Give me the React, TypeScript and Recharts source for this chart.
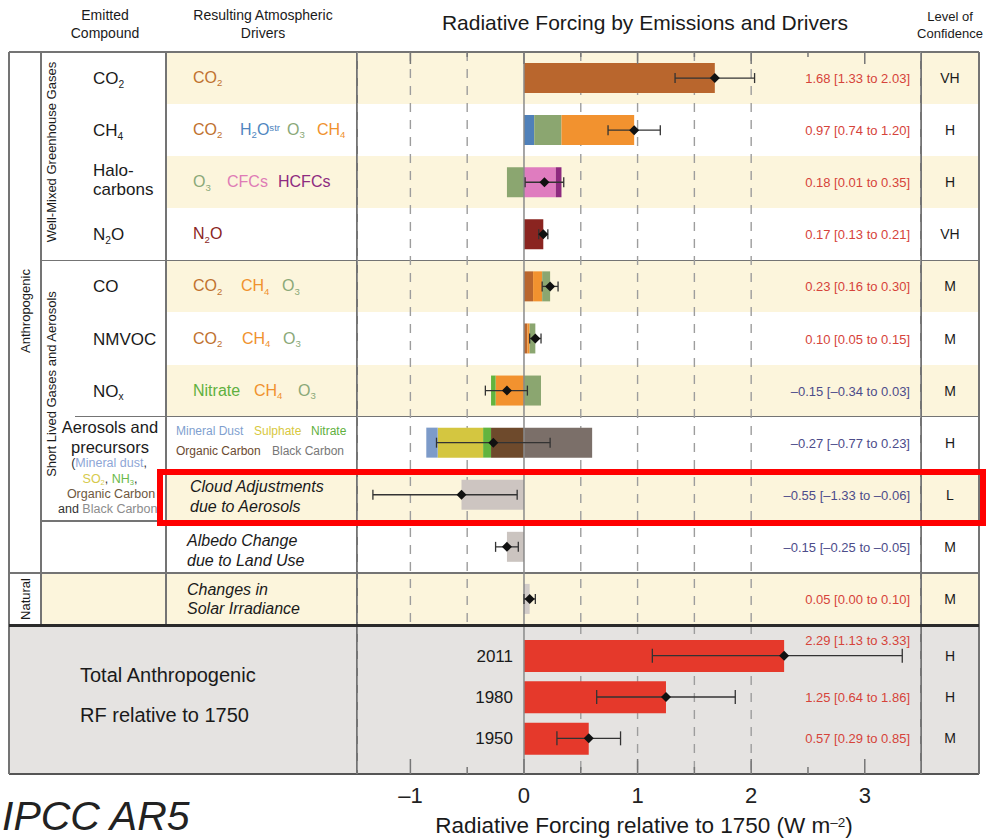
import React from 'react';
import { ComposedChart, Bar, Line, XAxis, YAxis, CartesianGrid, ReferenceLine, ErrorBar } from 'recharts';

// emitted compounds, rows of the upper panel
const rowNames = ['CO2', 'CH4', 'Halocarbons', 'N2O', 'CO', 'NMVOC', 'NOx', 'Aerosols', 'Cloud', 'Albedo', 'Solar'];

// contribution of each resulting driver (W m-2), one value per row
const co2Part = [1.68, 0, 0, 0, 0.08, 0.03, 0, 0, 0, 0, 0];
const h2oPart = [0, 0.09, 0, 0, 0, 0, 0, 0, 0, 0, 0];
const ch4IndPart = [0, 0, 0, 0, 0.08, 0.02, -0.25, 0, 0, 0, 0];
const o3Part = [0, 0.24, -0.15, 0, 0.07, 0.05, 0.15, 0, 0, 0, 0];
const ch4Part = [0, 0.64, 0, 0, 0, 0, 0, 0, 0, 0, 0];
const cfcPart = [0, 0, 0.28, 0, 0, 0, 0, 0, 0, 0, 0];
const hcfcPart = [0, 0, 0.05, 0, 0, 0, 0, 0, 0, 0, 0];
const n2oPart = [0, 0, 0, 0.17, 0, 0, 0, 0, 0, 0, 0];
const ocPart = [0, 0, 0, 0, 0, 0, 0, -0.29, 0, 0, 0];
const nitratePart = [0, 0, 0, 0, 0, 0, -0.04, -0.07, 0, 0, 0];
const sulphatePart = [0, 0, 0, 0, 0, 0, 0, -0.4, 0, 0, 0];
const dustPart = [0, 0, 0, 0, 0, 0, 0, -0.1, 0, 0, 0];
const bcPart = [0, 0, 0, 0, 0, 0, 0, 0.6, 0, 0, 0];
const cloudPart = [0, 0, 0, 0, 0, 0, 0, 0, -0.55, 0, 0];
const albedoPart = [0, 0, 0, 0, 0, 0, 0, 0, 0, -0.15, 0];
const solarPart = [0, 0, 0, 0, 0, 0, 0, 0, 0, 0, 0.05];

// best estimate and range
const bestRF = [1.68, 0.97, 0.18, 0.17, 0.23, 0.1, -0.15, -0.27, -0.55, -0.15, 0.05];
const lowRF = [1.33, 0.74, 0.01, 0.13, 0.16, 0.05, -0.34, -0.77, -1.33, -0.25, 0.0];
const highRF = [2.03, 1.2, 0.35, 0.21, 0.3, 0.15, 0.03, 0.23, -0.06, -0.05, 0.1];
const confidence = ['VH', 'H', 'H', 'VH', 'M', 'M', 'M', 'H', 'L', 'M', 'M'];

// total anthropogenic
const totalYears = ['2011', '1980', '1950'];
const totalBest = [2.29, 1.25, 0.57];
const totalLow = [1.13, 0.64, 0.29];
const totalHigh = [3.33, 1.86, 0.85];
const totalConfidence = ['H', 'H', 'M'];

const axisTicks = [-1, -0.5, 0, 0.5, 1, 1.5, 2, 2.5, 3];
const gridTicksTop = [-1, -0.5, 0.5, 1, 1.5, 2];
const gridTicksBottom = [0.5, 1, 1.5, 2];

// stacking order matters: inner segments first
const stackOrder = ['co2', 'h2o', 'ch4Ind', 'o3', 'ch4', 'cfc', 'hcfc', 'n2o', 'oc', 'nitrate', 'sulphate', 'dust', 'bc', 'cloud', 'albedo', 'solar'];
const partsByDriver: Record<string, number[]> = {
  co2: co2Part, h2o: h2oPart, ch4Ind: ch4IndPart, o3: o3Part, ch4: ch4Part, cfc: cfcPart, hcfc: hcfcPart,
  n2o: n2oPart, oc: ocPart, nitrate: nitratePart, sulphate: sulphatePart, dust: dustPart, bc: bcPart,
  cloud: cloudPart, albedo: albedoPart, solar: solarPart,
};
const driverColors: Record<string, string> = {
  co2: '#b9662d', h2o: '#4f80b9', ch4Ind: '#f2922f', o3: '#8ba670', ch4: '#f2922f', cfc: '#df7cbf',
  hcfc: '#8e2a7f', n2o: '#8a2420', oc: '#6e4a2c', nitrate: '#62b43f', sulphate: '#d4c640', dust: '#7d9bc9',
  bc: '#7b6f69', cloud: '#cdc5c1', albedo: '#cbc4c0', solar: '#d2ccc9',
};

const FONT = '"Liberation Sans", Arial, Helvetica, sans-serif';
const TOP = 52;
const PANEL_BOTTOM = 625;
const AXIS_Y = 774;
const ROW_H = (PANEL_BOTTOM - TOP) / rowNames.length;
const PLOT_LEFT = 357;
const PLOT_RIGHT = 921;
const PLOT_W = PLOT_RIGHT - PLOT_LEFT;
const X_DOMAIN: [number, number] = [-1.47, 3.495];
const BOT_PAD = { top: 10, bottom: 15 };
const BOT_BAND = (AXIS_Y - PANEL_BOTTOM - BOT_PAD.top - BOT_PAD.bottom) / totalYears.length;
const YELLOW = '#fcf5dc';
const LINE = '#747474';

const rowY = (i: number) => TOP + (i + 0.5) * ROW_H;
const botY = (i: number) => PANEL_BOTTOM + BOT_PAD.top + (i + 0.5) * BOT_BAND;

const fmt = (v: number) => (v < 0 ? '–' : '') + Math.abs(v).toFixed(2);
const rangeLabel = (b: number, l: number, h: number) => `${fmt(b)} [${fmt(l)} to ${fmt(h)}]`;

const Sub = ({ children }: any) => (
  <span style={{ fontSize: '0.6em', position: 'relative', top: '0.35em' }}>{children}</span>
);
const Sup = ({ children }: any) => (
  <span style={{ fontSize: '0.6em', position: 'relative', top: '-0.45em' }}>{children}</span>
);

function T({ x, y, align = 'left', size = 16, color = '#1a1a1a', italic = false, children }: any) {
  const tx = align === 'center' ? '-50%' : align === 'right' ? '-100%' : '0';
  return (
    <div
      style={{
        position: 'absolute', left: x, top: y, transform: `translate(${tx}, -50%)`,
        fontSize: size, color, fontStyle: italic ? 'italic' : 'normal', whiteSpace: 'nowrap', lineHeight: 1,
      }}
    >
      {children}
    </div>
  );
}

function VT({ x, y, size = 13, children }: any) {
  return (
    <div
      style={{
        position: 'absolute', left: x, top: y, transform: 'translate(-50%, -50%) rotate(-90deg)',
        fontSize: size, color: '#1a1a1a', whiteSpace: 'nowrap', lineHeight: 1,
      }}
    >
      {children}
    </div>
  );
}

const HL = ({ x1, x2, y, w = 1.4, c = LINE }: any) => (
  <div style={{ position: 'absolute', left: x1, top: y - w / 2, width: x2 - x1, height: w, background: c }} />
);
const VL = ({ x, y1, y2, w = 1.4, c = LINE }: any) => (
  <div style={{ position: 'absolute', left: x - w / 2, top: y1, width: w, height: y2 - y1, background: c }} />
);

const diamond = (r: number) => (p: any) => {
  const { cx, cy, index } = p;
  if (cx == null || cy == null) return <g key={index} />;
  return <path key={index} d={`M${cx},${cy - r}L${cx + r},${cy}L${cx},${cy + r}L${cx - r},${cy}Z`} fill="#111" />;
};

const TopTick = (p: any) => {
  const { x, y, payload } = p;
  const major = Number.isInteger(payload.value);
  return <line x1={x} x2={x} y1={y} y2={y + (major ? 12 : 5)} stroke="#777" strokeWidth={1.5} />;
};

const BottomTick = (p: any) => {
  const { x, y, payload } = p;
  const v = payload.value;
  const major = Number.isInteger(v);
  return (
    <g>
      <line x1={x} x2={x} y1={y} y2={y - (major ? 15 : 7)} stroke="#777" strokeWidth={1.5} />
      {major && (
        <text x={x} y={y + 29} textAnchor="middle" fontSize={22} fontFamily={FONT} fill="#222">
          {v < 0 ? '–' + Math.abs(v) : String(v)}
        </text>
      )}
    </g>
  );
};

export default function App() {
  const rows = rowNames.map((name, i) => {
    const r: any = { name, best: bestRF[i], err: [bestRF[i] - lowRF[i], highRF[i] - bestRF[i]] };
    stackOrder.forEach((k) => { r[k] = partsByDriver[k][i]; });
    return r;
  });
  const totals = totalYears.map((year, i) => ({
    year, best: totalBest[i], err: [totalBest[i] - totalLow[i], totalHigh[i] - totalBest[i]],
  }));

  const yellowRows = [0, 2, 4, 6, 8, 10];

  return (
    <div style={{ position: 'absolute', left: 0, top: 0, width: 986, height: 839, background: '#fff', fontFamily: FONT, overflow: 'hidden' }}>
      {/* row bands */}
      {yellowRows.map((i) => (
        <div key={i} style={{ position: 'absolute', left: i === 10 ? 41 : 166, top: TOP + i * ROW_H, width: (i === 10 ? 979 - 41 : 979 - 166), height: ROW_H, background: YELLOW }} />
      ))}
      <div style={{ position: 'absolute', left: 9, top: PANEL_BOTTOM, width: 970, height: AXIS_Y - PANEL_BOTTOM, background: '#e5e3e1' }} />

      {/* table lines */}
      <HL x1={9} x2={979} y={TOP} />
      <HL x1={41} x2={979} y={TOP + 4 * ROW_H} />
      <HL x1={75} x2={979} y={TOP + 7 * ROW_H} />
      <HL x1={41} x2={979} y={TOP + 9 * ROW_H} />
      <HL x1={9} x2={979} y={TOP + 10 * ROW_H} />
      <HL x1={9} x2={979} y={AXIS_Y} w={1.6} c="#555" />
      <VL x={9} y1={TOP} y2={AXIS_Y} />
      <VL x={41} y1={TOP} y2={PANEL_BOTTOM} />
      <VL x={166} y1={TOP} y2={PANEL_BOTTOM} />
      <VL x={PLOT_LEFT} y1={TOP} y2={AXIS_Y} />
      <VL x={PLOT_RIGHT} y1={TOP} y2={AXIS_Y} />
      <VL x={979} y1={TOP} y2={AXIS_Y} />

      {/* upper panel */}
      <div style={{ position: 'absolute', left: PLOT_LEFT, top: TOP - 1 }}>
        <ComposedChart
          width={PLOT_W}
          height={PANEL_BOTTOM - TOP + 1}
          data={rows}
          layout="vertical"
          stackOffset="sign"
          barSize={30}
          margin={{ top: 0, right: 0, bottom: 0, left: 0 }}
        >
          <CartesianGrid horizontal={false} stroke="#9d9d9d" strokeWidth={1.4} strokeDasharray="9 8" />
          <XAxis type="number" domain={X_DOMAIN} allowDataOverflow ticks={gridTicksTop} hide height={0} />
          <XAxis
            xAxisId="top"
            orientation="top"
            type="number"
            domain={X_DOMAIN}
            allowDataOverflow
            ticks={axisTicks}
            interval={0}
            height={1}
            tickSize={0}
            tickMargin={0}
            axisLine={false}
            tickLine={false}
            tick={(p: any) => <TopTick {...p} />}
          />
          <YAxis type="category" dataKey="name" hide />
          <ReferenceLine x={0} stroke="#8a8a8a" strokeWidth={1.5} />
          {stackOrder.map((k) => (
            <Bar key={k} dataKey={k} stackId="rf" fill={driverColors[k]} isAnimationActive={false} />
          ))}
          <Line dataKey="best" stroke="none" dot={diamond(5)} activeDot={false} isAnimationActive={false}>
            <ErrorBar dataKey="err" direction="x" width={5} stroke="#333" strokeWidth={1.3} isAnimationActive={false} />
          </Line>
        </ComposedChart>
      </div>

      {/* total anthropogenic panel */}
      <div style={{ position: 'absolute', left: PLOT_LEFT, top: PANEL_BOTTOM }}>
        <ComposedChart
          width={PLOT_W}
          height={AXIS_Y - PANEL_BOTTOM + 45}
          data={totals}
          layout="vertical"
          barSize={32}
          margin={{ top: 0, right: 0, bottom: 0, left: 0 }}
        >
          <CartesianGrid horizontal={false} stroke="#9d9d9d" strokeWidth={1.4} strokeDasharray="9 8" />
          <XAxis
            xAxisId="ax"
            type="number"
            domain={X_DOMAIN}
            allowDataOverflow
            ticks={axisTicks}
            interval={0}
            height={45}
            tickSize={0}
            tickMargin={0}
            axisLine={false}
            tickLine={false}
            tick={(p: any) => <BottomTick {...p} />}
          />
          <XAxis type="number" domain={X_DOMAIN} allowDataOverflow ticks={gridTicksBottom} hide height={0} />
          <YAxis type="category" dataKey="year" hide padding={BOT_PAD} />
          <ReferenceLine x={0} stroke="#8a8a8a" strokeWidth={1.5} />
          <Bar dataKey="best" fill="#e5392b" isAnimationActive={false} />
          <Line dataKey="best" stroke="none" dot={diamond(5)} activeDot={false} isAnimationActive={false}>
            <ErrorBar dataKey="err" direction="x" width={7} stroke="#333" strokeWidth={1.3} isAnimationActive={false} />
          </Line>
        </ComposedChart>
      </div>
      <HL x1={9} x2={979} y={PANEL_BOTTOM} w={3} c="#2a2a2a" />

      {/* headers */}
      <T x={105} y={15} align="center" size={14}>Emitted</T>
      <T x={105} y={33} align="center" size={14}>Compound</T>
      <T x={263} y={15} align="center" size={14}>Resulting Atmospheric</T>
      <T x={263} y={33} align="center" size={14}>Drivers</T>
      <T x={645} y={22} align="center" size={21}>Radiative Forcing by Emissions and Drivers</T>
      <T x={950} y={16} align="center" size={13}>Level of</T>
      <T x={950} y={33} align="center" size={13}>Confidence</T>

      {/* group labels */}
      <VT x={25} y={311}>Anthropogenic</VT>
      <VT x={25} y={599}>Natural</VT>
      <VT x={51} y={152}>Well-Mixed Greenhouse Gases</VT>
      <VT x={51} y={384}>Short Lived Gases and Aerosols</VT>

      {/* emitted compounds */}
      <T x={93} y={rowY(0)} size={17}>CO<Sub>2</Sub></T>
      <T x={93} y={rowY(1)} size={17}>CH<Sub>4</Sub></T>
      <T x={93} y={rowY(2) - 12} size={17}>Halo-</T>
      <T x={93} y={rowY(2) + 7} size={17}>carbons</T>
      <T x={93} y={rowY(3)} size={17}>N<Sub>2</Sub>O</T>
      <T x={93} y={rowY(4)} size={17}>CO</T>
      <T x={93} y={rowY(5)} size={17}>NMVOC</T>
      <T x={93} y={rowY(6)} size={17}>NO<Sub>x</Sub></T>
      <T x={110} y={rowY(7) - 16} align="center" size={16.5}>Aerosols and</T>
      <T x={110} y={rowY(7) + 4} align="center" size={16.5}>precursors</T>
      <T x={109} y={rowY(7) + 20} align="center" size={12.5} color="#333">(<span style={{ color: '#8ea6d6' }}>Mineral dust</span>,</T>
      <T x={110} y={rowY(7) + 36} align="center" size={12.5} color="#333">
        <span style={{ color: '#d6ca4c' }}>SO<Sub>2</Sub></span>, <span style={{ color: '#6cb94a' }}>NH<Sub>3</Sub></span>,
      </T>
      <T x={111} y={rowY(7) + 51} align="center" size={12.5} color="#6e5840">Organic Carbon</T>
      <T x={58} y={rowY(7) + 66} size={12.5} color="#333">and <span style={{ color: '#8c8c8c' }}>Black Carbon</span></T>

      {/* resulting drivers */}
      <T x={193} y={rowY(0)} color="#c0712f">CO<Sub>2</Sub></T>
      <T x={193} y={rowY(1)} color="#c0712f">CO<Sub>2</Sub></T>
      <T x={240} y={rowY(1)} color="#4f86c0">H<Sub>2</Sub>O<Sup>str</Sup></T>
      <T x={287} y={rowY(1)} color="#8aa878">O<Sub>3</Sub></T>
      <T x={317} y={rowY(1)} color="#f0922e">CH<Sub>4</Sub></T>
      <T x={193} y={rowY(2)} color="#8aa878">O<Sub>3</Sub></T>
      <T x={227} y={rowY(2)} color="#df7cb6">CFCs</T>
      <T x={278} y={rowY(2)} color="#8e2a80">HCFCs</T>
      <T x={193} y={rowY(3)} color="#8a2424">N<Sub>2</Sub>O</T>
      <T x={193} y={rowY(4)} color="#c0712f">CO<Sub>2</Sub></T>
      <T x={241} y={rowY(4)} color="#f0922e">CH<Sub>4</Sub></T>
      <T x={282} y={rowY(4)} color="#8aa878">O<Sub>3</Sub></T>
      <T x={193} y={rowY(5)} color="#c0712f">CO<Sub>2</Sub></T>
      <T x={242} y={rowY(5)} color="#f0922e">CH<Sub>4</Sub></T>
      <T x={283} y={rowY(5)} color="#8aa878">O<Sub>3</Sub></T>
      <T x={193} y={rowY(6)} color="#5fb040">Nitrate</T>
      <T x={254} y={rowY(6)} color="#f0922e">CH<Sub>4</Sub></T>
      <T x={298} y={rowY(6)} color="#8aa878">O<Sub>3</Sub></T>
      <T x={176} y={rowY(7) - 12} size={12} color="#7f9fcf">Mineral Dust</T>
      <T x={254} y={rowY(7) - 12} size={12} color="#d8c840">Sulphate</T>
      <T x={311} y={rowY(7) - 12} size={12} color="#5fb040">Nitrate</T>
      <T x={176} y={rowY(7) + 8} size={12} color="#6b4a30">Organic Carbon</T>
      <T x={272} y={rowY(7) + 8} size={12} color="#777">Black Carbon</T>
      <T x={190} y={rowY(8) - 8} italic>Cloud Adjustments</T>
      <T x={190} y={rowY(8) + 12} italic>due to Aerosols</T>
      <T x={187} y={rowY(9) - 6} italic>Albedo Change</T>
      <T x={187} y={rowY(9) + 14} italic>due to Land Use</T>
      <T x={187} y={rowY(10) - 9} italic>Changes in</T>
      <T x={187} y={rowY(10) + 10} italic>Solar Irradiance</T>

      {/* values and confidence */}
      {rowNames.map((n, i) => (
        <T key={n} x={910} y={rowY(i)} align="right" size={13} color={bestRF[i] < 0 ? '#4c4c8a' : '#d6433a'}>
          {rangeLabel(bestRF[i], lowRF[i], highRF[i])}
        </T>
      ))}
      {confidence.map((c, i) => (
        <T key={i} x={950} y={rowY(i)} align="center" size={14}>{c}</T>
      ))}

      {/* totals text */}
      <T x={80} y={675} size={20}>Total Anthropogenic</T>
      <T x={80} y={715} size={20}>RF relative to 1750</T>
      {totalYears.map((yr, i) => (
        <T key={yr} x={513} y={botY(i)} align="right" size={17}>{yr}</T>
      ))}
      {totalYears.map((yr, i) => (
        <T key={yr} x={910} y={i === 0 ? botY(i) - 16 : botY(i)} align="right" size={13} color="#d6433a">
          {rangeLabel(totalBest[i], totalLow[i], totalHigh[i])}
        </T>
      ))}
      {totalConfidence.map((c, i) => (
        <T key={i} x={950} y={botY(i)} align="center" size={14}>{c}</T>
      ))}

      {/* axis title and source */}
      <T x={644} y={826} align="center" size={22.5}>Radiative Forcing relative to 1750 (W m<Sup>–2</Sup>)</T>
      <T x={2} y={816} size={41} italic color="#222">IPCC AR5</T>

      {/* highlight */}
      <div style={{ position: 'absolute', left: 157, top: 469, width: 829, height: 57, border: '6px solid #ff0000', boxSizing: 'border-box' }} />
    </div>
  );
}
